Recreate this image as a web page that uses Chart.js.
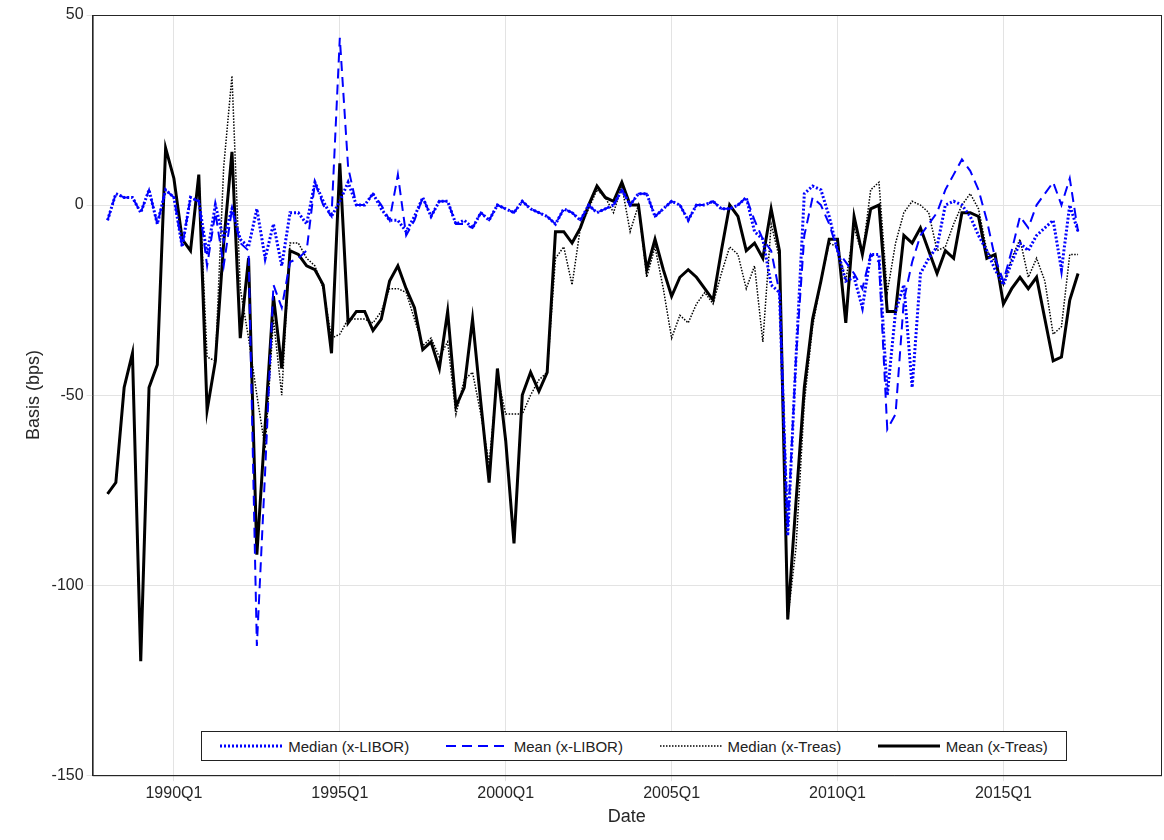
<!DOCTYPE html>
<html>
<head>
<meta charset="utf-8">
<script src="https://cdn.jsdelivr.net/npm/chart.js@4"></script>
<style>
  body { margin: 0; background: #fff; font-family: "Liberation Sans", Arial, sans-serif; }
  #wrap { position: relative; width: 1164px; height: 840px; }
  #legend { position: absolute; left: 201px; top: 731px; width: 864px; height: 28px; border: 1px solid #222; background: #fff;
            display: flex; align-items: center; justify-content: space-around; font-size: 15px; color: #222; }
  #legend span { display: flex; align-items: center; gap: 6px; }
</style>
</head>
<body>
<div id="wrap">
  <canvas id="chart" width="1164" height="840"></canvas>
  <div id="legend">
    <span><svg width="62" height="6"><line x1="0" y1="3" x2="62" y2="3" stroke="#0000ff" stroke-width="3" stroke-dasharray="2,2"/></svg>Median (x-LIBOR)</span>
    <span><svg width="62" height="6"><line x1="0" y1="3" x2="62" y2="3" stroke="#0000ff" stroke-width="2" stroke-dasharray="10,6"/></svg>Mean (x-LIBOR)</span>
    <span><svg width="62" height="6"><line x1="0" y1="3" x2="62" y2="3" stroke="#000" stroke-width="1.5" stroke-dasharray="1.5,1.5"/></svg>Median (x-Treas)</span>
    <span><svg width="62" height="6"><line x1="0" y1="3" x2="62" y2="3" stroke="#000" stroke-width="3"/></svg>Mean (x-Treas)</span>
  </div>
</div>
<script>
// quarterly, index 0 = 1988Q1
const tickLabels = ['1990Q1', '1995Q1', '2000Q1', '2005Q1', '2010Q1', '2015Q1'];

const medianLibor = [
  -4, 3, 2, 2, -2, 4, -5, 4, 2, -11,
  2, 1, -13, 0, -9, -1, -9, -11, -1, -14,
  -5, -16, -2, -2, -5, 6, 1, -3, 1, 6,
  0, 0, 3, -1, -4, -4, -7, -3, 2, -3,
  1, 1, -5, -4, -6, -2, -4, 0, -1, -2,
  1, -1, -2, -3, -5, -1, -2, -4, 0, -2,
  -1, 0, 4, 0, 3, 3, -3, -1, 1, 0,
  -4, 0, 0, 1, -1, -1, 0, 2, -7, -9,
  -21, -23, -87, -40, 3, 5, 4, -3, -12, -20,
  -19, -27, -13, -13, -50, -28, -21, -48, -18, -14,
  -11, 0, 1, 0, -3, -8, -12, -17, -21, -15,
  -10, -12, -8, -6, -4, -17, 0, -7
];
const meanLibor = [
  -4, 3, 2, 2, -2, 4, -5, 4, 2, -11,
  2, 1, -16, -2, -16, -1, -10, -12, -116, -70,
  -21, -27, -15, -14, -12, 6, 0, -3, 44, 10,
  0, 0, 3, 0, -4, 8, -8, -4, 2, -3,
  1, 1, -5, -5, -6, -2, -4, 0, -1, -2,
  1, -1, -2, -3, -5, -1, -2, -4, 0, -2,
  -1, 0, 4, 0, 3, 3, -3, -1, 1, 0,
  -4, 0, 0, 1, -1, -1, 0, 2, -4, -9,
  -12, -23, -85, -40, -8, 2, 0, -5, -12, -15,
  -18, -22, -13, -15, -59, -55, -25, -15, -8, -5,
  -2, 4, 8, 12, 9, 4, -4, -14, -20, -12,
  -3, -6, 0, 3, 6, 0, 7, -7
];
const medianTreas = [
  -76, -73, -48, -39, -120, -48, -42, 15, 7, -9,
  -12, 8, -40, -41, 10, 34, -22, -35, -50, -64,
  -30, -50, -10, -10, -14, -16, -22, -35, -34, -30,
  -30, -30, -31, -28, -22, -22, -23, -30, -37, -35,
  -40, -36, -55, -46, -44, -55, -68, -45, -55, -55,
  -55, -50, -46, -44, -14, -11, -21, -6, -1, 4,
  2, -2, 5, -7, 0, -19, -11, -22, -35, -29,
  -31, -26, -23, -26, -18, -11, -13, -22, -16, -36,
  -5, -14, -109, -90, -52, -32, -20, -10, -11, -20,
  -6, -13, 4, 6, -23, -10, -2, 1, 0, -2,
  -12, -11, -5, 0, 3, -1, -12, -15, -21, -14,
  -9, -19, -14, -20, -34, -32, -13, -13
];
const meanTreas = [
  -76, -73, -48, -39, -120, -48, -42, 15, 7, -9,
  -12, 8, -54, -41, -10, 14, -35, -14, -92, -58,
  -24, -43, -12, -13, -16, -17, -21, -39, 11, -31,
  -28, -28, -33, -30, -20, -16, -22, -27, -38, -36,
  -43, -28, -53, -48, -30, -52, -73, -43, -62, -89,
  -50, -44, -49, -44, -7, -7, -10, -6, 0, 5,
  2, 1, 6, 0, 0, -17, -9, -17, -24, -19,
  -17, -19, -22, -25, -12, 0, -3, -12, -10, -14,
  -1, -12, -109, -78, -48, -30, -20, -9, -9, -31,
  -3, -13, -1, 0, -28, -28, -8, -10, -6, -12,
  -18, -12, -14, -2, -2, -3, -14, -13, -26, -22,
  -19, -22, -19, -30, -41, -40, -25, -18
];

const toPoints = arr => arr.map((v, i) => ({ x: i, y: v }));

const frame = {
  id: 'frame',
  afterDraw(chart) {
    const { ctx, chartArea: a } = chart;
    ctx.save();
    ctx.strokeStyle = '#262626';
    ctx.lineWidth = 1;
    ctx.strokeRect(a.left + 0.5, a.top + 0.5, a.right - a.left, a.bottom - a.top);
    ctx.restore();
  }
};

new Chart(document.getElementById('chart'), {
  type: 'line',
  data: {
    datasets: [
      { label: 'Median (x-LIBOR)', data: toPoints(medianLibor), borderColor: '#0000ff', borderWidth: 3, borderDash: [2, 2] },
      { label: 'Mean (x-LIBOR)', data: toPoints(meanLibor), borderColor: '#0000ff', borderWidth: 2, borderDash: [10, 6] },
      { label: 'Median (x-Treas)', data: toPoints(medianTreas), borderColor: '#000', borderWidth: 1.5, borderDash: [1.5, 1.5] },
      { label: 'Mean (x-Treas)', data: toPoints(meanTreas), borderColor: '#000', borderWidth: 3 }
    ]
  },
  options: {
    responsive: false,
    animation: false,
    elements: { point: { radius: 0 }, line: { tension: 0 } },
    layout: { padding: { top: 15, right: 3, left: 19, bottom: 8 } },
    plugins: { legend: { display: false }, tooltip: { enabled: false } },
    scales: {
      x: {
        type: 'linear', min: -1.8, max: 127,
        afterBuildTicks: axis => { axis.ticks = tickLabels.map((_, i) => ({ value: 8 + 20 * i })); },
        ticks: {
          callback: v => { const i = (v - 8) / 20; return tickLabels[i] || ''; },
          color: '#262626', font: { size: 16, family: 'Liberation Sans' }, maxRotation: 0
        },
        grid: { color: '#e3e3e3', tickLength: 6 },
        border: { color: '#262626' },
        title: { display: true, text: 'Date', color: '#262626', font: { size: 18, family: 'Liberation Sans' }, padding: { top: 0 } }
      },
      y: {
        min: -150, max: 50,
        ticks: { stepSize: 50, color: '#262626', font: { size: 16, family: 'Liberation Sans' } },
        grid: { color: '#e3e3e3', tickLength: 6 },
        border: { color: '#262626' },
        title: { display: true, text: 'Basis (bps)', color: '#262626', font: { size: 18, family: 'Liberation Sans' }, padding: { bottom: 4 } }
      }
    }
  },
  plugins: [frame]
});
</script>
</body>
</html>
